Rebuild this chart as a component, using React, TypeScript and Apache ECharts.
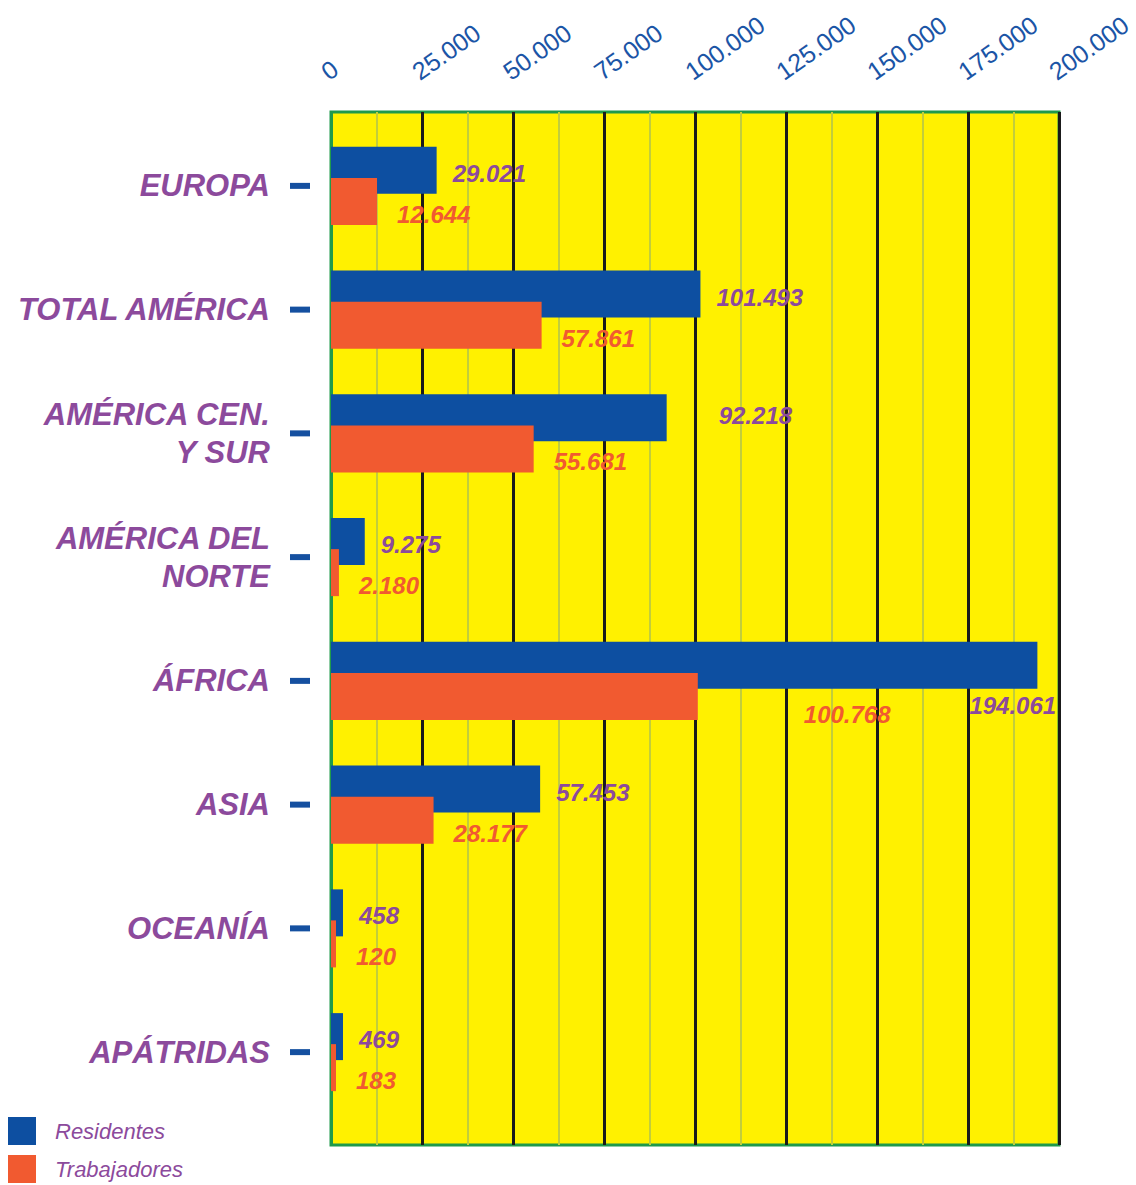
import React, { useEffect, useRef } from "react";
import * as echarts from "echarts";

const categories = [
  "EUROPA",
  "TOTAL AMÉRICA",
  "AMÉRICA CEN.\nY SUR",
  "AMÉRICA DEL\nNORTE",
  "ÁFRICA",
  "ASIA",
  "OCEANÍA",
  "APÁTRIDAS",
];
const residentes = [29021, 101493, 92218, 9275, 194061, 57453, 458, 469];
const trabajadores = [12644, 57861, 55681, 2180, 100768, 28177, 120, 183];
const axisTicks = [0, 25000, 50000, 75000, 100000, 125000, 150000, 175000, 200000];

const BLUE = "#0d4fa1";
const ORANGE = "#f15a30";
const PURPLE = "#8c4a9c";
const YELLOW = "#fff100";
const GREEN = "#1f9a4b";
const BLACK = "#1a1a1a";
const FONT = "Liberation Sans";

const fmt = (v: number) => String(v).replace(/\B(?=(\d{3})+(?!\d))/g, ".");

// label tweaks (style only)
const blueLabelTweaks: Record<string, any> = {
  "AMÉRICA CEN.\nY SUR": { offset: [36, -2] },
  "ÁFRICA": { distance: 5, offset: [-73, 40] },
};
const orangeLabelTweaks: Record<string, any> = {
  "ÁFRICA": { distance: 106, offset: [0, 18] },
};

export default function App() {
  const ref = useRef<HTMLDivElement>(null);
  useEffect(() => {
    if (!ref.current) return;
    const chart = echarts.init(ref.current, undefined, { renderer: "svg" });
    const labelBase = {
      show: true,
      position: "right",
      fontFamily: FONT,
      fontSize: 24,
      fontWeight: "bold",
      fontStyle: "italic",
      formatter: (p: any) => fmt(p.value),
    };
    const option: any = {
      animation: false,
      backgroundColor: "#ffffff",
      grid: [
        {
          left: 331,
          top: 112,
          width: 728,
          height: 1033,
          show: true,
          backgroundColor: YELLOW,
          borderColor: GREEN,
          borderWidth: 3,
        },
        { left: 331, top: 124, width: 728, height: 990 },
      ],
      xAxis: [
        {
          gridIndex: 0,
          type: "value",
          position: "top",
          min: axisTicks[0],
          max: axisTicks[axisTicks.length - 1],
          interval: axisTicks[1] - axisTicks[0],
          axisLine: { show: false },
          axisTick: { show: false },
          axisLabel: {
            rotate: 35,
            margin: 28,
            align: "left",
            verticalAlign: "bottom",
            color: "#1b55a6",
            fontFamily: FONT,
            fontSize: 25,
            formatter: (v: number) => fmt(v),
          },
          splitLine: {
            show: true,
            lineStyle: {
              color: [GREEN, BLACK, BLACK, BLACK, BLACK, BLACK, BLACK, BLACK, BLACK],
              width: 3,
            },
          },
          minorTick: { show: false, splitNumber: 2 },
          minorSplitLine: { show: true, lineStyle: { color: "#c2cd3c", width: 2 } },
        },
        {
          gridIndex: 1,
          type: "value",
          min: axisTicks[0],
          max: axisTicks[axisTicks.length - 1],
          show: false,
        },
      ],
      yAxis: [
        { gridIndex: 0, type: "value", min: 0, max: 1, show: false },
        {
          gridIndex: 1,
          type: "category",
          position: "left",
          inverse: true,
          data: categories,
          axisLine: { show: false },
          axisTick: { show: false },
          splitLine: { show: false },
          axisLabel: {
            margin: 61,
            color: PURPLE,
            fontFamily: FONT,
            fontSize: 31,
            fontWeight: "bold",
            fontStyle: "italic",
            lineHeight: 38,
            align: "right",
          },
        },
      ],
      legend: {
        orient: "vertical",
        left: 8,
        top: 1117,
        padding: 0,
        itemWidth: 28,
        itemHeight: 28,
        itemGap: 10,
        icon: "rect",
        data: ["Residentes", "Trabajadores"],
        textStyle: {
          color: PURPLE,
          fontFamily: FONT,
          fontSize: 22,
          fontStyle: "italic",
          padding: [16, 0, 0, 14],
        },
      },
      series: [
        {
          name: "Residentes",
          type: "bar",
          xAxisIndex: 1,
          yAxisIndex: 1,
          barWidth: 47,
          barGap: "-34%",
          barMinHeight: 12,
          itemStyle: { color: BLUE },
          z: 3,
          data: residentes.map((v, i) => ({
            value: v,
            label: {
              ...labelBase,
              color: PURPLE,
              distance: 16,
              offset: [0, 3],
              ...(blueLabelTweaks[categories[i]] || {}),
            },
          })),
        },
        {
          name: "Trabajadores",
          type: "bar",
          xAxisIndex: 1,
          yAxisIndex: 1,
          barWidth: 47,
          barMinHeight: 5,
          itemStyle: { color: ORANGE },
          z: 4,
          data: trabajadores.map((v, i) => ({
            value: v,
            label: {
              ...labelBase,
              color: ORANGE,
              distance: 20,
              offset: [0, 13],
              ...(orangeLabelTweaks[categories[i]] || {}),
            },
          })),
        },
        {
          // category tick marks, drawn outside the plot at the axis origin
          name: "ticks",
          type: "scatter",
          xAxisIndex: 1,
          yAxisIndex: 1,
          clip: false,
          silent: true,
          symbol: "rect",
          symbolSize: [20, 6],
          symbolOffset: [-31, 0],
          itemStyle: { color: "#1550a0", opacity: 1 },
          z: 5,
          data: categories.map((c) => [axisTicks[0], c]),
        },
      ],
    };
    chart.setOption(option);
    return () => chart.dispose();
  }, []);
  return (
    <div
      ref={ref}
      style={{ position: "fixed", left: 0, top: 0, width: 1136, height: 1185 }}
    />
  );
}
